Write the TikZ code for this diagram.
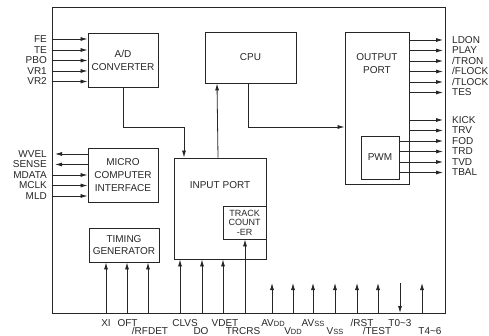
\documentclass[tikz,border=0pt]{standalone}
\usepackage{fontspec}
\setmainfont{Liberation Sans}
\usepackage{xcolor}
\usepackage{tikz}
\usetikzlibrary{positioning, arrows.meta, calc}
\definecolor{ink}{gray}{0.15}
\newcommand{\lowdd}[1]{{\fontsize{7.5}{7.5}\selectfont #1}}

\begin{document}
\begin{tikzpicture}[
    x=1pt, y=-1pt,
    blk/.style={rectangle, draw=ink, line width=0.9pt, inner sep=0pt, align=center, text=ink, font=\fontsize{10}{13}\selectfont},
    boxtxt/.style={align=center, inner sep=0pt, text=ink, font=\fontsize{10}{13}\selectfont},
    sig/.style={inner sep=0pt, text height=7pt, text depth=0pt, text=ink, font=\fontsize{10}{10}\selectfont},
    arr/.style={-{Latex[length=7pt, width=4pt]}, draw=ink, line width=0.8pt}
]
\useasboundingbox (0,0) rectangle (489,336);

% chip outline and blocks
\node[blk, minimum width=393, minimum height=306] (frame) at (248.5,160) {};
\node[blk, minimum width=70, minimum height=54] (ad) at (123,60) {A/D\\CONVERTER};
\node[blk, minimum width=91, minimum height=51] (cpu) at (250.5,57.5) {CPU};
\node[blk, minimum width=64, minimum height=152] (out) at (377,108) {};
\node[boxtxt] (outtxt) at (377,64) {OUTPUT\\PORT};
\node[blk, minimum width=38, minimum height=43] (pwm) at (380,157.5) {PWM};
\node[blk, minimum width=70, minimum height=54] (mci) at (123,175) {MICRO\\COMPUTER\\INTERFACE};
\node[blk, minimum width=70, minimum height=34, font=\fontsize{10}{12}\selectfont] (tim) at (124,245) {TIMING\\GENERATOR};
\node[blk, minimum width=92, minimum height=101] (inp) at (220,208.5) {};
\node[boxtxt] (inptxt) at (220,185) {INPUT PORT};
\node[blk, minimum width=43, minimum height=33, font=\fontsize{9}{9.5}\selectfont] (trk) at (244.5,222.5) {TRACK\\COUNT\\-ER};

% internal buses
\draw[arr] (ad.south) -- ($(ad.south |- 0,127)$) -| ([xshift=-36pt]inp.north);
\draw[arr] ([xshift=-2pt]inp.north) -- ([xshift=-33.5pt]cpu.south);
\draw[arr] ([xshift=-2.5pt]cpu.south) |- ([yshift=-19pt]out.west);

% left side signals
\coordinate (lend) at (55,0);
\node[sig, anchor=east] (fe) at (47,39) {FE};
\node[sig, anchor=east] (te) at (47,50) {TE};
\node[sig, anchor=east] (pbo) at (47,60.5) {PBO};
\node[sig, anchor=east] (vr1) at (47,71) {VR1};
\node[sig, anchor=east] (vr2) at (47,81.5) {VR2};
\draw[arr] (fe.east -| frame.west) -- (fe.east -| ad.west);
\draw[arr] (te.east -| frame.west) -- (te.east -| ad.west);
\draw[arr] (pbo.east -| frame.west) -- (pbo.east -| ad.west);
\draw[arr] (vr1.east -| frame.west) -- (vr1.east -| ad.west);
\draw[arr] (vr2.east -| frame.west) -- (vr2.east -| ad.west);

\node[sig, anchor=east] (wvel) at (47,154) {WVEL};
\node[sig, anchor=east] (sense) at (47,164.5) {SENSE};
\node[sig, anchor=east] (mdata) at (47,175) {MDATA};
\node[sig, anchor=east] (mclk) at (47,185.5) {MCLK};
\node[sig, anchor=east] (mld) at (47,196) {MLD};
\draw[arr] (wvel.east -| mci.west) -- (wvel.east -| lend);
\draw[arr] (sense.east -| mci.west) -- (sense.east -| lend);
\draw[arr] (mdata.east -| frame.west) -- (mdata.east -| mci.west);
\draw[arr] (mclk.east -| frame.west) -- (mclk.east -| mci.west);
\draw[arr] (mld.east -| frame.west) -- (mld.east -| mci.west);

% right side signals
\coordinate (rend) at (443,0);
\node[sig, anchor=west] (ldon) at (452,40) {LDON};
\node[sig, anchor=west] (play) at (452,50.5) {PLAY};
\node[sig, anchor=west] (tron) at (452,61) {/TRON};
\node[sig, anchor=west] (flock) at (452,71.5) {/FLOCK};
\node[sig, anchor=west] (tlock) at (452,82) {/TLOCK};
\node[sig, anchor=west] (tes) at (452,92.5) {TES};
\node[sig, anchor=west] (kick) at (452,120) {KICK};
\node[sig, anchor=west] (trv) at (452,130.5) {TRV};
\node[sig, anchor=west] (fod) at (452,141) {FOD};
\node[sig, anchor=west] (trd) at (452,151.5) {TRD};
\node[sig, anchor=west] (tvd) at (452,162) {TVD};
\node[sig, anchor=west] (tbal) at (452,172.5) {TBAL};
\draw[arr] (ldon.west -| out.east) -- (ldon.west -| rend);
\draw[arr] (play.west -| out.east) -- (play.west -| rend);
\draw[arr] (tron.west -| out.east) -- (tron.west -| rend);
\draw[arr] (flock.west -| out.east) -- (flock.west -| rend);
\draw[arr] (tlock.west -| out.east) -- (tlock.west -| rend);
\draw[arr] (tes.west -| out.east) -- (tes.west -| rend);
\draw[arr] (kick.west -| out.east) -- (kick.west -| rend);
\draw[arr] (trv.west -| out.east) -- (trv.west -| rend);
\draw[arr] (fod.west -| pwm.east) -- (fod.west -| rend);
\draw[arr] (trd.west -| pwm.east) -- (trd.west -| rend);
\draw[arr] (tvd.west -| pwm.east) -- (tvd.west -| rend);
\draw[arr] (tbal.west -| pwm.east) -- (tbal.west -| rend);

% bottom pins
\coordinate (ptop) at (0,283);
\coordinate (pxi) at (106,313);
\coordinate (poft) at (127,313);
\coordinate (prfdet) at (148,313);
\coordinate (pclvs) at (180,313);
\coordinate (pdo) at (202,313);
\coordinate (pvdet) at (223,313);
\coordinate (ptrcrs) at (245,313);
\coordinate (pavdd) at (272,313);
\coordinate (pvdd) at (293,313);
\coordinate (pavss) at (313,313);
\coordinate (pvss) at (335,313);
\coordinate (prst) at (357,313);
\coordinate (ptest) at (378,313);
\coordinate (pt03) at (400,313);
\coordinate (pt46) at (422,313);
\draw[arr] (pxi) -- (pxi |- tim.south);
\draw[arr] (poft) -- (poft |- tim.south);
\draw[arr] (prfdet) -- (prfdet |- tim.south);
\draw[arr] (pclvs) -- (pclvs |- inp.south);
\draw[arr] (pdo) -- (pdo |- inp.south);
\draw[arr] (pvdet) -- (pvdet |- inp.south);
\draw[arr] (ptrcrs) -- (ptrcrs |- trk.south);
\draw[arr] (pavdd) -- (pavdd |- ptop);
\draw[arr] (pvdd) -- (pvdd |- ptop);
\draw[arr] (pavss) -- (pavss |- ptop);
\draw[arr] (pvss) -- (pvss |- ptop);
\draw[arr] (prst) -- (prst |- ptop);
\draw[arr] (ptest) -- (ptest |- ptop);
\draw[arr] (pt03 |- ptop) -- (pt03);
\draw[arr] (pt46) -- (pt46 |- ptop);

\node[sig] (xi) at (106,323) {XI};
\node[sig] (oft) at (127.5,323) {OFT};
\node[sig] (rfdet) at (150,331) {/RFDET};
\node[sig] (clvs) at (185,323) {CLVS};
\node[sig] (do) at (201,331) {DO};
\node[sig] (vdet) at (225,323) {VDET};
\node[sig] (trcrs) at (243,331) {TRCRS};
\node[sig] (avdd) at (273,323) {AV\lowdd{DD}};
\node[sig] (vdd) at (293,331) {V\lowdd{DD}};
\node[sig] (avss) at (313,323) {AV\lowdd{SS}};
\node[sig] (vss) at (335,331) {V\lowdd{SS}};
\node[sig] (rst) at (362,323) {/RST};
\node[sig] (test) at (377,331) {/TEST};
\node[sig] (t03) at (400,323) {T0\textasciitilde3};
\node[sig] (t46) at (430,331) {T4\textasciitilde6};

\end{tikzpicture}
\end{document}
